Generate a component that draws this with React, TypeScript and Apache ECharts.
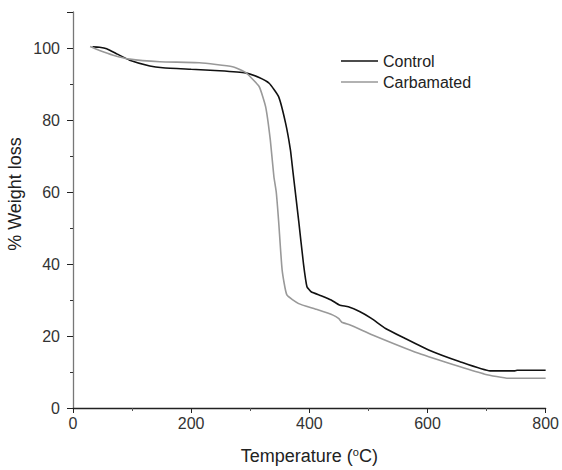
import React, { useEffect, useRef } from "react";
import * as echarts from "echarts";

const controlX = [33, 45, 57, 75, 96, 130, 152, 200, 248, 292, 315, 332, 348, 360, 368, 372, 382, 390, 396, 403, 420, 437, 451, 466, 485, 505, 529, 560, 602, 654, 706, 748, 752, 800];
const controlY = [100.3, 100.2, 99.8, 98.3, 96.6, 95, 94.5, 94.1, 93.7, 93.1, 91.8, 90.2, 86.5, 79, 71.7, 66, 52, 40.2, 33.7, 32.3, 31.2, 30, 28.6, 28.1, 26.8, 24.9, 22.1, 19.5, 16.1, 12.9, 10.3, 10.3, 10.5, 10.5];

const carbX = [29, 45, 68, 96, 147, 214, 270, 292, 315, 326, 334, 340, 344, 348, 354, 362, 382, 410, 440, 450, 455, 470, 507, 585, 654, 697, 737, 800];
const carbY = [100.4, 99.3, 98, 96.9, 96.2, 95.9, 94.8, 93.2, 89.3, 83.7, 74.4, 64.3, 60, 52, 38.3, 31.4, 29, 27.5, 25.8, 24.8, 23.8, 23, 20.3, 15.2, 11.5, 9.4, 8.25, 8.25];

const seriesNames = ["Control", "Carbamated"];
const xTitle = "Temperature ({sup|o}C)";
const yTitle = "% Weight loss";

const FONT = "Liberation Sans, Arial, sans-serif";

export default function App() {
  const ref = useRef<HTMLDivElement>(null);
  useEffect(() => {
    if (!ref.current) return;
    const chart = echarts.init(ref.current, undefined, { renderer: "svg" });
    const zip = (xs: number[], ys: number[]) => xs.map((x, i) => [x, ys[i]]);
    chart.setOption({
      animation: false,
      backgroundColor: "#ffffff",
      textStyle: { fontFamily: FONT },
      grid: { left: 73, right: 13, top: 12, bottom: 62 },
      legend: {
        orient: "vertical",
        left: 336,
        top: 48,
        icon: "rect",
        itemWidth: 37,
        itemHeight: 1.6,
        itemGap: 5,
        textStyle: { fontSize: 16, color: "#222", fontFamily: FONT, lineHeight: 16 },
        data: seriesNames,
      },
      xAxis: {
        type: "value",
        min: 0,
        max: 800,
        interval: 200,
        name: xTitle,
        nameLocation: "middle",
        nameGap: 38,
        nameTextStyle: {
          fontSize: 18,
          color: "#222",
          fontFamily: FONT,
          rich: { sup: { fontSize: 11, color: "#222", fontFamily: FONT, padding: [0, 0, 8, 0] } },
        },
        axisLine: { show: true, lineStyle: { color: "#222", width: 1.3 } },
        axisTick: { show: true, length: 5, lineStyle: { color: "#222" } },
        minorTick: { show: true, splitNumber: 2, length: 3, lineStyle: { color: "#555" } },
        axisLabel: { fontSize: 16, color: "#333", margin: 7, fontFamily: FONT },
        splitLine: { show: false },
      },
      yAxis: {
        type: "value",
        min: 0,
        max: 110,
        interval: 20,
        axisLine: { show: true, lineStyle: { color: "#777", width: 1.3 } },
        axisTick: { show: true, length: 6, lineStyle: { color: "#222" } },
        minorTick: { show: true, splitNumber: 2, length: 3, lineStyle: { color: "#333" } },
        axisLabel: { fontSize: 16, color: "#333", margin: 13, fontFamily: FONT, showMaxLabel: false },
        splitLine: { show: false },
      },
      graphic: [
        {
          type: "text",
          x: 15,
          y: 194,
          rotation: Math.PI / 2,
          style: {
            text: yTitle,
            fontSize: 18,
            fontFamily: FONT,
            fill: "#222",
            textAlign: "center",
            textVerticalAlign: "middle",
          },
        },
      ],
      series: [
        {
          name: seriesNames[0],
          type: "line",
          data: zip(controlX, controlY),
          symbol: "none",
          smooth: 0.15,
          lineStyle: { color: "#111", width: 1.6 },
          itemStyle: { color: "#111" },
        },
        {
          name: seriesNames[1],
          type: "line",
          data: zip(carbX, carbY),
          symbol: "none",
          smooth: 0.15,
          lineStyle: { color: "#999", width: 1.6 },
          itemStyle: { color: "#999" },
        },
      ],
    });
    return () => chart.dispose();
  }, []);
  return (
    <div
      ref={ref}
      style={{ position: "fixed", left: 0, top: 0, width: 562, height: 470, background: "#fff" }}
    />
  );
}
